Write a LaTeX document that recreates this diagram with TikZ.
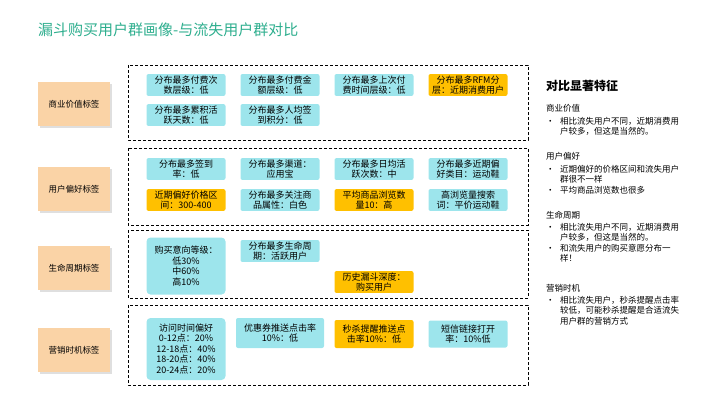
\documentclass[tikz,border=0pt]{standalone}
\usepackage{fontspec}
\setmainfont{Noto Sans CJK SC}
\usetikzlibrary{shadows}
\definecolor{cyanc}{HTML}{9DE5EC}
\definecolor{orangec}{HTML}{FFC000}
\definecolor{peach}{HTML}{FAD3A6}
\definecolor{titc}{HTML}{2EAE8E}
\newcommand{\bul}{\makebox[14pt][l]{•}}
\newcommand{\ind}{\hspace*{14pt}}
\begin{document}
\begin{tikzpicture}[x=1pt,y=-1pt,
  cell/.style={fill=cyanc, rounded corners=2pt, minimum width=78pt, align=center, font=\fontsize{9}{10.5}\selectfont, inner sep=1.5pt, text width=76pt},
  hot/.style={cell, fill=orangec},
  lab/.style={fill=peach, minimum width=72pt, minimum height=44pt, font=\fontsize{8.5}{10}\selectfont, drop shadow={shadow xshift=1.5pt,shadow yshift=-1.5pt,fill=gray!50}},
  frame/.style={draw, densely dashed, thick},
  rt/.style={anchor=north west, align=left, font=\fontsize{8.5}{10.5}\selectfont, inner sep=0pt}]
\useasboundingbox (0,0) rectangle (720,405);
\node[anchor=west, text=titc, font=\fontsize{15}{17}\selectfont, inner sep=0pt] (title) at (38,30) {漏斗购买用户群画像-与流失用户群对比};
% labels
\node[lab] (l1) at (74,104) {商业价值标签};
\node[lab] (l2) at (74,189) {用户偏好标签};
\node[lab] (l3) at (74,268) {生命周期标签};
\node[lab] (l4) at (74,350) {营销时机标签};
% frames
\draw[frame] (128,65) rectangle (528,140);
\draw[frame] (128,148) rectangle (528,225);
\draw[frame] (128,230) rectangle (528,298);
\draw[frame] (128,305) rectangle (528,385);
% box1
\node[cell] (a1) at (186,85) {分布最多付费次\\数层级：低};
\node[cell] (a2) at (280,85) {分布最多付费金\\额层级：低};
\node[cell] (a3) at (374,85) {分布最多上次付\\费时间层级：低};
\node[hot] (a4) at (468,85) {分布最多RFM分\\层：近期消费用户};
\node[cell] (a5) at (186,115) {分布最多累积活\\跃天数：低};
\node[cell] (a6) at (280,115) {分布最多人均签\\到积分：低};
% box2
\node[cell] (b1) at (186,169) {分布最多签到\\率：低};
\node[cell] (b2) at (280,169) {分布最多渠道：\\应用宝};
\node[cell] (b3) at (374,169) {分布最多日均活\\跃次数：中};
\node[cell] (b4) at (468,169) {分布最多近期偏\\好类目：运动鞋};
\node[hot] (b5) at (186,200) {近期偏好价格区\\间：300-400};
\node[cell] (b6) at (280,200) {分布最多关注商\\品属性：白色};
\node[hot] (b7) at (374,200) {平均商品浏览数\\量10：高};
\node[cell] (b8) at (468,200) {高浏览量搜索\\词：平价运动鞋};
% box3
\node[cell, minimum height=57pt, rounded corners=4pt] (c1) at (186,266) {购买意向等级：\\低30\%\\中60\%\\高10\%};
\node[cell] (c2) at (280,251) {分布最多生命周\\期：活跃用户};
\node[hot] (c3) at (374,282) {历史漏斗深度：\\购买用户};
% box4
\node[cell, minimum height=62pt, rounded corners=4pt] (d1) at (186,349) {访问时间偏好\\0-12点：20\%\\12-18点：40\%\\18-20点：40\%\\20-24点：20\%};
\node[cell, text width=84pt, minimum width=88pt, minimum height=30pt] (d2) at (280,333) {优惠券推送点击率\\10\%：低};
\node[hot, minimum height=28pt] (d3) at (374,334) {秒杀提醒推送点\\击率10\%：低};
\node[cell, minimum height=27pt] (d4) at (468,334) {短信链接打开\\率：10\%低};
% right
\node[anchor=west, font=\bfseries\fontsize{12}{14}\selectfont, inner sep=0pt] (rt) at (546,86) {对比显著特征};
\node[rt] (r1) at (546,104) {商业价值};
\node[rt] (r1a) at (546,117) {\bul 相比流失用户不同，近期消费用\\\ind 户较多，但这是当然的。};
\node[rt] (r2) at (546,152) {用户偏好};
\node[rt] (r2a) at (546,165) {\bul 近期偏好的价格区间和流失用户\\\ind 群很不一样\\\bul 平均商品浏览数也很多};
\node[rt] (r3) at (546,211) {生命周期};
\node[rt] (r3a) at (546,223) {\bul 相比流失用户不同，近期消费用\\\ind 户较多，但这是当然的。\\\bul 和流失用户的购买意愿分布一\\\ind 样！};
\node[rt] (r4) at (546,284) {营销时机};
\node[rt] (r4a) at (546,296) {\bul 相比流失用户，秒杀提醒点击率\\\ind 较低，可能秒杀提醒是合适流失\\\ind 用户群的营销方式};
\end{tikzpicture}
\end{document}
